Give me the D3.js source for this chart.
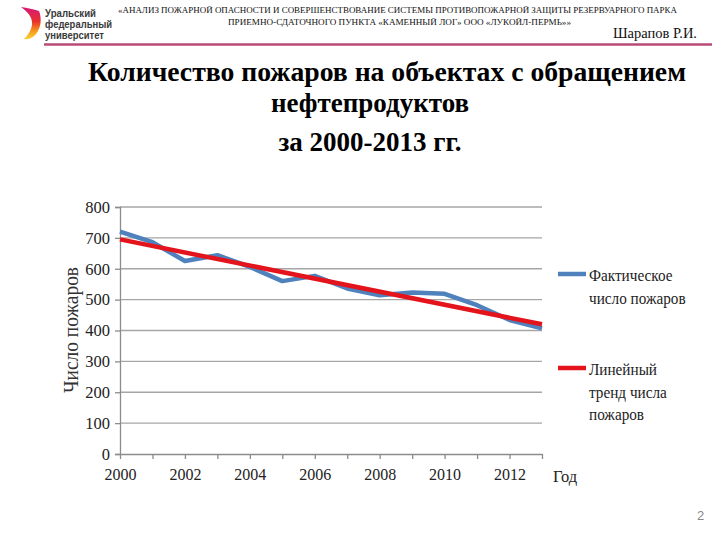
<!DOCTYPE html>
<html><head><meta charset="utf-8">
<script src="https://cdn.jsdelivr.net/npm/d3@7/dist/d3.min.js"></script>
<style>
html,body{margin:0;padding:0;background:#fff;}
svg{display:block;}
</style></head>
<body>
<svg id="chart" width="720" height="540"></svg>
<script>
// ---- data ----
const years = [2000,2001,2002,2003,2004,2005,2006,2007,2008,2009,2010,2011,2012,2013];
const actualFires = [720,686,625,644,606,560,577,536,514,523,519,482,434,407];
const trendYears = [2000,2013];
const trendFires = [695,420];
const yTicks = [0,100,200,300,400,500,600,700,800];
const xTicks = [2000,2002,2004,2006,2008,2010,2012];
const legendActual = ["Фактическое","число пожаров"];
const legendTrend = ["Линейный","тренд числа","пожаров"];
const titleLines = ["Количество пожаров на объектах с обращением","нефтепродуктов","за 2000-2013 гг."];
const headerLines = ["«АНАЛИЗ ПОЖАРНОЙ ОПАСНОСТИ И СОВЕРШЕНСТВОВАНИЕ СИСТЕМЫ ПРОТИВОПОЖАРНОЙ ЗАЩИТЫ РЕЗЕРВУАРНОГО ПАРКА","ПРИЕМНО-СДАТОЧНОГО ПУНКТА «КАМЕННЫЙ ЛОГ» ООО «ЛУКОЙЛ-ПЕРМЬ»»"];
const logoLines = ["Уральский","федеральный","университет"];

const svg = d3.select("#chart");
const serif = "Liberation Serif, Times New Roman, serif";

// ---- header ----
const grad = svg.append("defs").append("linearGradient")
  .attr("id","logoGrad").attr("x1","0").attr("y1","0").attr("x2","0").attr("y2","1");
grad.append("stop").attr("offset","0%").attr("stop-color","#d6177a");
grad.append("stop").attr("offset","45%").attr("stop-color","#e8322c");
grad.append("stop").attr("offset","75%").attr("stop-color","#f59a1b");
grad.append("stop").attr("offset","100%").attr("stop-color","#fbd33a");
svg.append("path")
  .attr("d","M21,7 C27,8 34,9 39,11 C42,18 41,28 36,34 C33,38 28,40 24,39 C28,35 31,31 32,25 C33,18 28,12 21,7 Z")
  .attr("fill","url(#logoGrad)");
svg.append("g").selectAll("text").data(logoLines).join("text")
  .attr("x",45).attr("y",(d,i)=>16.5+i*11)
  .attr("font-family","Liberation Sans, Arial, sans-serif").attr("font-weight","bold")
  .attr("font-size",11.5).attr("textLength",(d,i)=>[51,67,59][i]).attr("lengthAdjust","spacingAndGlyphs")
  .attr("fill","#3a3a3a").text(d=>d);

const hdrX = [[118,559],[228,343]];
svg.append("g").selectAll("text").data(headerLines).join("text")
  .attr("x",(d,i)=>hdrX[i][0]).attr("y",(d,i)=>13+i*11.5)
  .attr("textLength",(d,i)=>hdrX[i][1]).attr("lengthAdjust","spacingAndGlyphs")
  .attr("font-family",serif).attr("font-size",8.5).attr("fill","#111").text(d=>d);
svg.append("text").attr("x",697).attr("y",38).attr("text-anchor","end")
  .attr("font-family",serif).attr("font-size",14.5).attr("fill","#111").text("Шарапов Р.И.");
svg.append("line").attr("x1",44).attr("x2",712).attr("y1",44.5).attr("y2",44.5)
  .attr("stroke","#b84a78").attr("stroke-width",2.5);

// ---- title ----
const titleY = [81,112,151];
const titleX = [387,370,370];
svg.append("g").selectAll("text").data(titleLines).join("text")
  .attr("x",(d,i)=>titleX[i]).attr("y",(d,i)=>titleY[i])
  .attr("text-anchor","middle")
  .attr("font-family",serif).attr("font-weight","bold").attr("font-size",27)
  .each(function(d,i){ if(i===0) d3.select(this).attr("textLength",598).attr("lengthAdjust","spacingAndGlyphs"); })
  .attr("fill","#000").text(d=>d);

// ---- chart ----
const x = d3.scaleLinear().domain([2000,2013]).range([120,542]);
const y = d3.scaleLinear().domain([0,800]).range([454,207]);

// gridlines
svg.append("g").selectAll("line").data(yTicks.filter(v=>v>0)).join("line")
  .attr("x1",120).attr("x2",542).attr("y1",d=>y(d)).attr("y2",d=>y(d))
  .attr("stroke","#a6a6a6").attr("stroke-width",1.3);

// y axis
const yAxis = svg.append("g").attr("transform","translate(120,0)")
  .call(d3.axisLeft(y).tickValues(yTicks).tickSize(5).tickPadding(5).tickFormat(d3.format("d")));
yAxis.select(".domain").attr("stroke","#8c8c8c").attr("stroke-width",1.3);
yAxis.selectAll(".tick line").attr("stroke","#8c8c8c").attr("stroke-width",1.3);
yAxis.selectAll("text").attr("font-family",serif).attr("font-size",16.5).attr("fill","#222");

// x axis
const xAxis = svg.append("g").attr("transform","translate(0,454)")
  .call(d3.axisBottom(x).tickValues(years).tickSize(5).tickSizeOuter(0).tickPadding(10)
    .tickFormat(d=>xTicks.includes(d)?String(d):""));
xAxis.select(".domain").attr("stroke","#8c8c8c").attr("stroke-width",1.3);
xAxis.selectAll(".tick line").attr("stroke","#8c8c8c").attr("stroke-width",1.3);
xAxis.selectAll("text").attr("font-family",serif).attr("font-size",16).attr("fill","#222");

svg.append("text").attr("x",553).attr("y",482).attr("font-family",serif)
  .attr("font-size",16.5).attr("fill","#222").text("Год");
svg.append("text").attr("transform","translate(78,330) rotate(-90)").attr("text-anchor","middle")
  .attr("font-family",serif).attr("font-size",20).attr("textLength",126).attr("lengthAdjust","spacingAndGlyphs")
  .attr("fill","#333").text("Число пожаров");

// lines
const line = d3.line().x(d=>x(d[0])).y(d=>y(d[1]));
svg.append("path").datum(years.map((yr,i)=>[yr,actualFires[i]]))
  .attr("d",line).attr("fill","none").attr("stroke","#4f81bd").attr("stroke-width",4.5)
  .attr("stroke-linejoin","round");
svg.append("path").datum(trendYears.map((yr,i)=>[yr,trendFires[i]]))
  .attr("d",line).attr("fill","none").attr("stroke","#e3141b").attr("stroke-width",4.5);

// legend
const leg = [{c:"#4f81bd",t:legendActual,y:274},{c:"#e3141b",t:legendTrend,y:368}];
leg.forEach(L=>{
  svg.append("line").attr("x1",558).attr("x2",586).attr("y1",L.y).attr("y2",L.y)
    .attr("stroke",L.c).attr("stroke-width",4.5);
  svg.append("g").selectAll("text").data(L.t).join("text")
    .attr("transform",(d,i)=>`translate(589,${L.y+7+i*22.5}) scale(0.87,1)`)
    .attr("font-family",serif).attr("font-size",17.5).attr("fill","#222").text(d=>d);
});

// page number
svg.append("text").attr("x",697).attr("y",520).attr("font-family","Liberation Sans, Arial, sans-serif")
  .attr("font-size",13).attr("fill","#888").text("2");
</script>
</body></html>
